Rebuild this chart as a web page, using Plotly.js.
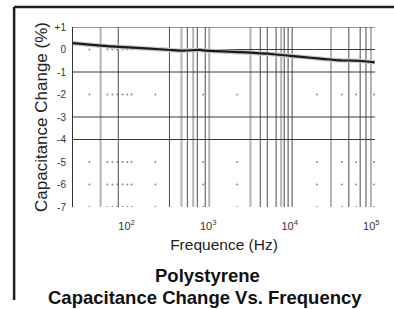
<!DOCTYPE html>
<html>
<head>
<meta charset="utf-8">
<script src="https://cdn.plot.ly/plotly-3.0.1.min.js"></script>
<style>html,body{margin:0;padding:0;background:#fff;}#chart{width:394px;height:309px;}</style>
</head>
<body>
<div id="chart"></div>
<script>
// Curve
const freqHz = [22, 48, 120, 315, 455, 800, 870, 2500, 6300, 10000, 16000, 25600, 41000, 67000, 110000];
const capChange = [0.28, 0.17, 0.08, -0.01, -0.05, -0.02, -0.04, -0.12, -0.21, -0.28, -0.35, -0.42, -0.48, -0.50, -0.57];

// Axis ticks
const yTickVals = [1, 0, -1, -2, -3, -4, -5, -6, -7];
const yTickText = ['+1', '0', '-1', '-2', '-3', '-4', '-5', '-6', '-7'];
const xTickVals = [100, 1000, 10000, 100000];
const xTickText = ['10<sup>2</sup>', '10<sup>3</sup>', '10<sup>4</sup>', '10<sup>5</sup>'];

// Grid as drawn in the scanned original
const darkGridX = [79, 335, 555, 735, 920, 4350, 5300, 6800, 8550, 9550, 10700, 53000, 73000, 86000];
const lightGridX = [48, 470, 655, 1030, 3300, 7850, 32000, 99000];
const solidGridY = [1, 0, -1, -3, -4];
const solidGridStart = [22, 600, 22, 22, 22];
const dotRowsY = [0, -2, -5, -6, -7];
const dotColsX = [35, 58, 67, 77, 89, 102, 115, 225, 870, 2270, 21600, 43700, 64900, 108000];

const xMin = 22, xMax = 111000;

const shapes = [];
lightGridX.forEach(v => shapes.push({type:'line', xref:'x', yref:'paper', x0:v, x1:v, y0:0, y1:1, line:{color:'#b4b4b4', width:2}, layer:'below'}));
darkGridX.forEach(v => shapes.push({type:'line', xref:'x', yref:'paper', x0:v, x1:v, y0:0, y1:1, line:{color:'#4a4a4a', width:1}, layer:'below'}));
solidGridY.forEach((v, i) => shapes.push({type:'line', xref:'x', yref:'y', x0:solidGridStart[i], x1:xMax, y0:v, y1:v, line:{color:'#3a3a3a', width:1}, layer:'below'}));
// outer frame of the page scan
shapes.push({type:'line', xref:'paper', yref:'paper', x0:-0.195, x1:1.07, y0:1.111, y1:1.111, line:{color:'#1e1e1e', width:2.5}});
shapes.push({type:'line', xref:'paper', yref:'paper', x0:-0.195, x1:-0.195, y0:1.111, y1:-0.516, line:{color:'#1e1e1e', width:2.5}});

const dotX = [], dotY = [];
dotRowsY.forEach(r => dotColsX.forEach(c => {
  if (r === 0 && c > 500) return;
  dotX.push(c); dotY.push(r);
}));

const traces = [
  {x: dotX, y: dotY, type:'scatter', mode:'markers', marker:{size:2, color:'#8a8a8a'}, hoverinfo:'skip', showlegend:false},
  {x: freqHz, y: capChange, type:'scatter', mode:'lines', line:{color:'#c8c8c8', width:4.5, shape:'spline'}, hoverinfo:'skip', showlegend:false},
  {x: freqHz, y: capChange, type:'scatter', mode:'lines', line:{color:'#1a1a1a', width:2.2, shape:'spline'}, showlegend:false}
];

const layout = {
  width: 394, height: 309,
  margin: {l: 73, r: 19, t: 27, b: 102},
  paper_bgcolor: '#fff', plot_bgcolor: '#fff',
  font: {family: 'Liberation Sans, Arial, sans-serif', color: '#222'},
  showlegend: false,
  xaxis: {
    type: 'log', range: [Math.log10(xMin), Math.log10(xMax)],
    showgrid: false, zeroline: false, showline: false, ticks: '',
    tickmode: 'array', tickvals: xTickVals, ticktext: xTickText,
    tickfont: {size: 11, color: '#333'}, ticklabelstandoff: 11,
    title: {text: 'Frequence (Hz)', font: {size: 15.5, color: '#222'}, standoff: 8}
  },
  yaxis: {
    range: [-7, 1], showgrid: false, zeroline: false,
    showline: true, linecolor: '#333', linewidth: 1, ticks: '',
    tickmode: 'array', tickvals: yTickVals, ticktext: yTickText,
    tickfont: {size: 10, color: '#333'}, ticklabelstandoff: 4,
    title: {text: 'Capacitance Change (%)', font: {size: 17, color: '#222'}, standoff: 2}
  },
  shapes: shapes,
  annotations: [{
    xref: 'paper', yref: 'paper', x: (207 - 73) / 302, y: (207 - 275) / 180,
    xanchor: 'center', yanchor: 'middle', showarrow: false,
    text: '<b>Polystyrene</b>', font: {size: 18.5, color: '#111'}
  }, {
    xref: 'paper', yref: 'paper', x: (205 - 73) / 302, y: (207 - 297) / 180,
    xanchor: 'center', yanchor: 'middle', showarrow: false,
    text: '<b>Capacitance Change Vs. Frequency</b>', font: {size: 18.5, color: '#111'}
  }]
};

Plotly.newPlot('chart', traces, layout, {staticPlot: true, displayModeBar: false});
</script>
</body>
</html>
